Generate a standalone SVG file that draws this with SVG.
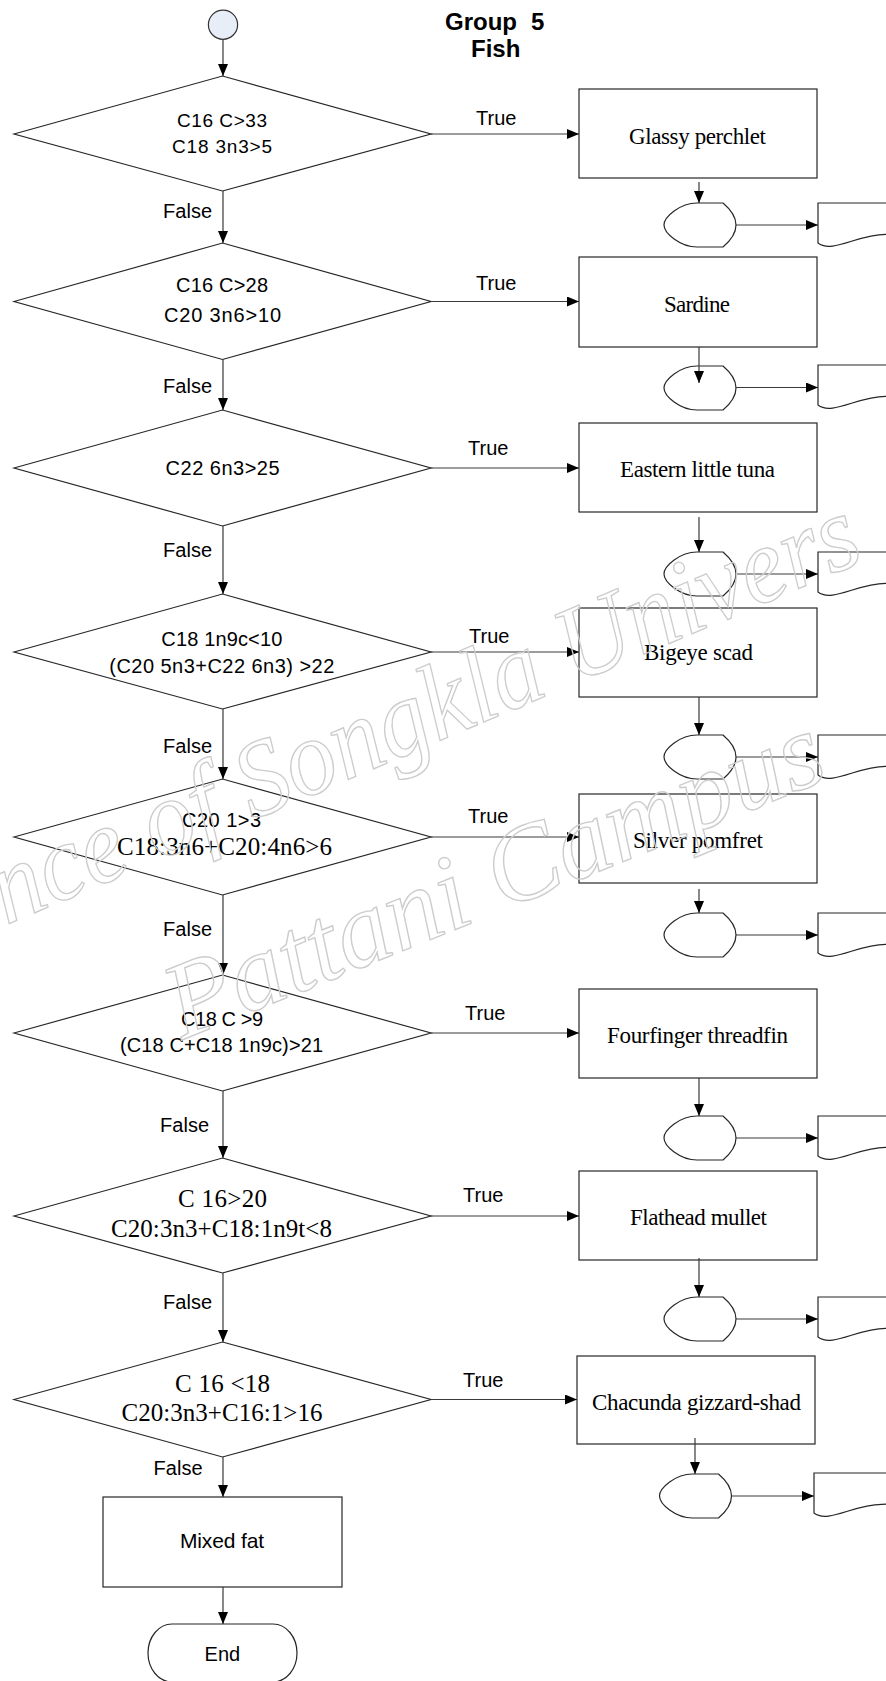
<svg xmlns="http://www.w3.org/2000/svg" width="886" height="1681" viewBox="0 0 886 1681">
  <style>
    .shape { fill: #fff; stroke: #262626; stroke-width: 1.2; }
    .conn { fill: none; stroke: #3a3a3a; stroke-width: 1.2; }
    .sans { font-family: "Liberation Sans", Arial, sans-serif; fill: #000; }
    .serif { font-family: "Liberation Serif", "Times New Roman", serif; fill: #000; }
    .cond { font-size: 20px; text-anchor: middle; }
    .cond19 { font-size: 19px; text-anchor: middle; }
    .tcond { font-size: 25px; text-anchor: middle; }
    .box { font-size: 23px; text-anchor: middle; }
    .lbl { font-size: 20px; }
    .false { font-size: 20px; text-anchor: end; }
    .title { font-size: 24px; font-weight: bold; }
    .mark { font-family: "Liberation Serif", serif; font-style: italic; font-size: 108px; fill: none; stroke: #cdcdcd; stroke-width: 1.4; }
  </style>
  <defs>
    <marker id="arr" viewBox="0 0 12 10" refX="12" refY="5" markerWidth="12" markerHeight="10" markerUnits="userSpaceOnUse" orient="auto">
      <path d="M0,0 L12,5 L0,10 Z" fill="#000"/>
    </marker>
    <!-- display shape, anchored at its left point's x and its top edge -->
    <path id="disp" d="M33,0 H59 Q85,22 59,44 H33 C16,44 0,30 0,22 C0,14 16,0 33,0 Z"/>
    <!-- document shape with wavy bottom, runs past the right edge -->
    <path id="doc" d="M0,0 H140 V40 C120,34 100,30 68,31.3 C40,31 14,51 0,40 Z"/>
  </defs>

  <rect width="886" height="1681" fill="#fff"/>

  <!-- start -->
  <g id="start">
    <circle cx="223" cy="24.7" r="14.6" fill="#e8eef7" stroke="#333" stroke-width="1.2"/>
  </g>

  <!-- title -->
  <g id="title" class="sans title">
    <text x="445" y="30">Group</text>
    <text x="531" y="30">5</text>
    <text x="471" y="57.3">Fish</text>
  </g>

  <!-- decisions -->
  <g id="d1">
    <polygon class="shape" points="14,134 222.5,76 431,134 222.5,191"/>
    <text class="sans cond19" x="222" y="126.7" textLength="90">C16 C&gt;33</text>
    <text class="sans cond19" x="222" y="152.7" textLength="100">C18 3n3&gt;5</text>
  </g>
  <g id="d2">
    <polygon class="shape" points="14,301.5 222.5,243 431,301.5 222.5,359.5"/>
    <text class="sans cond" x="222" y="292.3" textLength="92">C16 C&gt;28</text>
    <text class="sans cond" x="222.5" y="321.7" textLength="117">C20 3n6&gt;10</text>
  </g>
  <g id="d3">
    <polygon class="shape" points="14,468 222.5,410 431,468 222.5,526"/>
    <text class="sans cond" x="222.6" y="475" textLength="114">C22 6n3&gt;25</text>
  </g>
  <g id="d4">
    <polygon class="shape" points="14,652 222.5,594 431,652 222.5,709"/>
    <text class="sans cond" x="221.8" y="646" textLength="121">C18 1n9c&lt;10</text>
    <text class="sans cond" x="221.8" y="673.3" textLength="225">(C20 5n3+C22 6n3) &gt;22</text>
  </g>
  <g id="d5">
    <polygon class="shape" points="14,837 222.5,779 431,837 222.5,895"/>
    <text class="sans cond" x="221.5" y="826.7" textLength="79">C20 1&gt;3</text>
    <text class="serif tcond" x="224.5" y="855" textLength="215">C18:3n6+C20:4n6&gt;6</text>
  </g>
  <g id="d6">
    <polygon class="shape" points="14,1033 222.5,975 431,1033 222.5,1091"/>
    <text class="sans cond" x="222" y="1026" textLength="82">C18 C &gt;9</text>
    <text class="sans cond" x="221.5" y="1051.7" textLength="203">(C18 C+C18 1n9c)&gt;21</text>
  </g>
  <g id="d7">
    <polygon class="shape" points="14,1216 222.5,1158 431,1216 222.5,1273"/>
    <text class="serif tcond" x="222.5" y="1206.7" textLength="89">C 16&gt;20</text>
    <text class="serif tcond" x="221.5" y="1236.7" textLength="221">C20:3n3+C18:1n9t&lt;8</text>
  </g>
  <g id="d8">
    <polygon class="shape" points="14,1399.5 222.5,1342 431,1399.5 222.5,1457"/>
    <text class="serif tcond" x="222.5" y="1391.7" textLength="95">C 16 &lt;18</text>
    <text class="serif tcond" x="222" y="1421" textLength="201">C20:3n3+C16:1&gt;16</text>
  </g>

  <!-- species boxes -->
  <g id="b1">
    <rect class="shape" x="579" y="89" width="238" height="89"/>
    <text class="serif box" x="697.5" y="144" textLength="137">Glassy perchlet</text>
  </g>
  <g id="b2">
    <rect class="shape" x="579" y="257" width="238" height="90"/>
    <text class="serif box" x="697" y="311.7" textLength="66">Sardine</text>
  </g>
  <g id="b3">
    <rect class="shape" x="579" y="423" width="238" height="89"/>
    <text class="serif box" x="697.5" y="477" textLength="155">Eastern little tuna</text>
  </g>
  <g id="b4">
    <rect class="shape" x="579" y="608" width="238" height="89"/>
    <text class="serif box" x="698.5" y="660" textLength="109">Bigeye scad</text>
  </g>
  <g id="b5">
    <rect class="shape" x="579" y="794" width="238" height="89"/>
    <text class="serif box" x="698" y="848" textLength="130">Silver pomfret</text>
  </g>
  <g id="b6">
    <rect class="shape" x="579" y="989" width="238" height="89"/>
    <text class="serif box" x="697.5" y="1043" textLength="181">Fourfinger threadfin</text>
  </g>
  <g id="b7">
    <rect class="shape" x="579" y="1171" width="238" height="89"/>
    <text class="serif box" x="698.5" y="1225" textLength="137">Flathead mullet</text>
  </g>
  <g id="b8">
    <rect class="shape" x="577" y="1356" width="238" height="88"/>
    <text class="serif box" x="696.5" y="1410" textLength="209">Chacunda gizzard-shad</text>
  </g>

  <!-- display shapes -->
  <g id="t1"><use href="#disp" class="shape" x="664" y="203"/></g>
  <g id="t2"><use href="#disp" class="shape" x="664" y="366"/></g>
  <g id="t3"><use href="#disp" class="shape" x="664" y="552"/></g>
  <g id="t4"><use href="#disp" class="shape" x="664" y="735"/></g>
  <g id="t5"><use href="#disp" class="shape" x="664" y="913"/></g>
  <g id="t6"><use href="#disp" class="shape" x="664" y="1116"/></g>
  <g id="t7"><use href="#disp" class="shape" x="664" y="1297"/></g>
  <g id="t8"><use href="#disp" class="shape" x="659.5" y="1474"/></g>

  <!-- documents -->
  <g id="doc1"><use href="#doc" class="shape" x="818" y="203"/></g>
  <g id="doc2"><use href="#doc" class="shape" x="818" y="365"/></g>
  <g id="doc3"><use href="#doc" class="shape" x="818" y="552"/></g>
  <g id="doc4"><use href="#doc" class="shape" x="818" y="735"/></g>
  <g id="doc5"><use href="#doc" class="shape" x="818" y="913"/></g>
  <g id="doc6"><use href="#doc" class="shape" x="818" y="1116"/></g>
  <g id="doc7"><use href="#doc" class="shape" x="818" y="1297"/></g>
  <g id="doc8"><use href="#doc" class="shape" x="814" y="1473"/></g>

  <!-- fallback result and end -->
  <g id="mixed">
    <rect class="shape" x="103" y="1497" width="239" height="90"/>
    <text class="sans" x="222" y="1548.3" font-size="21" text-anchor="middle" textLength="84">Mixed fat</text>
  </g>
  <g id="end">
    <rect class="shape" x="148" y="1624" width="149" height="58" rx="24" ry="29"/>
    <text class="sans" x="222.4" y="1661" font-size="20" text-anchor="middle">End</text>
  </g>

  <!-- connectors -->
  <g id="connectors" class="conn" marker-end="url(#arr)">
    <path d="M223,39.3 V76"/>
    <path d="M223,191 V243"/>
    <path d="M223,359.5 V410"/>
    <path d="M223,526 V594"/>
    <path d="M223,709 V779"/>
    <path d="M223,895 V975"/>
    <path d="M223,1091 V1158"/>
    <path d="M223,1273 V1342"/>
    <path d="M223,1457 V1497"/>
    <path d="M223,1587 V1624"/>

    <path d="M431,134 H579"/>
    <path d="M431,301.5 H579"/>
    <path d="M431,468 H579"/>
    <path d="M431,652 H579"/>
    <path d="M431,837 H579"/>
    <path d="M431,1033 H579"/>
    <path d="M431,1216 H579"/>
    <path d="M431,1399.5 H577"/>

    <path d="M699,182 V203"/>
    <path d="M699,347 V383"/>
    <path d="M699,517 V552"/>
    <path d="M699,697 V735"/>
    <path d="M699,889 V913"/>
    <path d="M699,1078 V1116"/>
    <path d="M699,1258 V1297"/>
    <path d="M695,1438 V1474"/>

    <path d="M736,225 H818"/>
    <path d="M736,387.5 H818"/>
    <path d="M736,574 H818"/>
    <path d="M736,757 H818"/>
    <path d="M736,935 H818"/>
    <path d="M736,1138 H818"/>
    <path d="M736,1319 H818"/>
    <path d="M731.5,1496 H814"/>
  </g>

  <!-- edge labels -->
  <g id="labels" class="sans">
    <text class="lbl" x="476" y="125">True</text>
    <text class="lbl" x="476" y="290">True</text>
    <text class="lbl" x="468" y="455">True</text>
    <text class="lbl" x="469" y="643.3">True</text>
    <text class="lbl" x="468" y="823.3">True</text>
    <text class="lbl" x="465" y="1020">True</text>
    <text class="lbl" x="463" y="1201.7">True</text>
    <text class="lbl" x="463" y="1386.7">True</text>

    <text class="false" x="212" y="218.3">False</text>
    <text class="false" x="212" y="392.7">False</text>
    <text class="false" x="212" y="556.7">False</text>
    <text class="false" x="212" y="752.7">False</text>
    <text class="false" x="212" y="936">False</text>
    <text class="false" x="209" y="1131.7">False</text>
    <text class="false" x="212" y="1309.3">False</text>
    <text class="false" x="202.5" y="1475">False</text>
  </g>

  <!-- faint outlined watermark lettering, running off both page edges -->
  <g id="watermark">
    <text class="mark" transform="translate(6,925) rotate(-23)" textLength="935" lengthAdjust="spacingAndGlyphs">nce of Songkla Univers</text>
    <text class="mark" transform="translate(182,1040) rotate(-22)" textLength="700" lengthAdjust="spacingAndGlyphs">Pattani Campus</text>
  </g>
</svg>
